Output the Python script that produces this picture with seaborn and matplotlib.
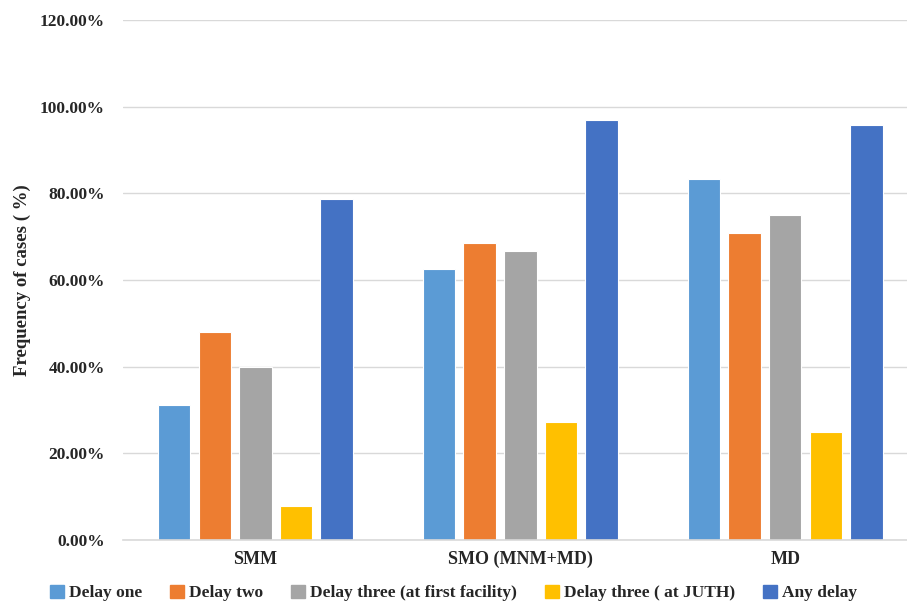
import pandas as pd
import seaborn as sns
import matplotlib.pyplot as plt

# Data
categories = ['SMM', 'SMO (MNM+MD)', 'MD']
series = ['Delay one', 'Delay two', 'Delay three (at first facility)',
          'Delay three ( at JUTH)', 'Any delay']
delay_one = [31.2, 62.5, 83.3]
delay_two = [48.0, 68.5, 70.8]
delay_three_first = [40.0, 66.7, 75.0]
delay_three_juth = [7.8, 27.3, 25.0]
any_delay = [78.7, 96.9, 95.8]
colors = ['#5B9BD5', '#ED7D31', '#A5A5A5', '#FFC000', '#4472C4']
yticks = [0, 20, 40, 60, 80, 100, 120]

rows = []
for name, vals in zip(series, [delay_one, delay_two, delay_three_first,
                               delay_three_juth, any_delay]):
    for cat, v in zip(categories, vals):
        rows.append({'category': cat, 'series': name, 'value': v})
df = pd.DataFrame(rows)

sns.set_style('white')
plt.rcParams['font.family'] = ['Liberation Serif', 'DejaVu Serif']
plt.rcParams['font.weight'] = 'bold'

fig = plt.figure(figsize=(9.07, 6.02), dpi=100)
ax = fig.add_axes([123 / 907, 62 / 602, 784 / 907, 520 / 602])

sns.barplot(data=df, x='category', y='value', hue='series', order=categories,
            hue_order=series, palette=colors, saturation=1, width=0.767, gap=0.2,
            edgecolor='white', linewidth=0.8, ax=ax, legend=False)

ax.set_ylim(0, 120)
ax.set_xlim(-0.5, 2.46)
ax.set_yticks(yticks)
ax.set_yticklabels([f'{t:.2f}%' for t in yticks], fontsize=12.5, fontweight='bold')
ax.set_xticks(range(len(categories)))
ax.set_xticklabels(categories, fontsize=13, fontweight='bold')
ax.tick_params(axis='y', length=0, pad=13)
ax.tick_params(axis='x', length=0, pad=8)
ax.yaxis.grid(True, color='#D9D9D9', linewidth=1)
ax.set_axisbelow(True)
for s in ['top', 'right', 'left']:
    ax.spines[s].set_visible(False)
ax.spines['bottom'].set_color('#D9D9D9')
ax.spines['bottom'].set_linewidth(1.2)
ax.set_xlabel('')
ax.set_ylabel('Frequency of cases ( %)', fontsize=13.5, fontweight='bold', labelpad=6)

handles = [plt.Rectangle((0, 0), 1, 1, color=c) for c in colors]
fig.legend(handles, series, loc='lower center', bbox_to_anchor=(0.5, -0.025),
           ncol=5, frameon=False, handlelength=0.8, handleheight=0.8,
           handletextpad=0.3, columnspacing=1.6,
           prop={'size': 12.5, 'weight': 'bold'})

fig.savefig('out.png', dpi=100)
